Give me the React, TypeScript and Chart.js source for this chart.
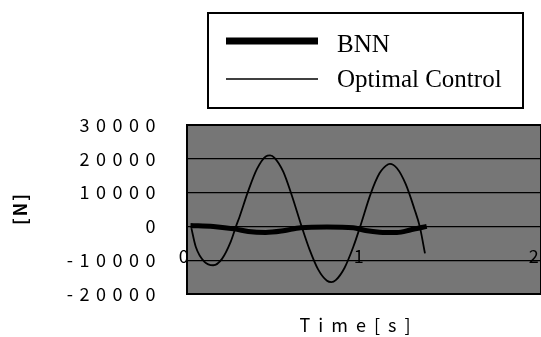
import React, { useEffect, useRef } from 'react';
import { Chart, registerables } from 'chart.js';

Chart.register(...registerables);

// ---- data ----
const seriesNames = ['BNN', 'Optimal Control'];

const bnnTime = [0.02, 0.15, 0.28, 0.35, 0.45, 0.55, 0.65, 0.8, 0.95, 1.02, 1.1, 1.2, 1.28, 1.37];
const bnnForce = [300, 0, -800, -1500, -1800, -1300, -400, -200, -400, -1200, -1700, -1800, -1000, 0];

const optTime = [
  0.025, 0.05, 0.1, 0.15, 0.2, 0.25, 0.28, 0.3, 0.35, 0.4, 0.45, 0.475, 0.5, 0.55, 0.6, 0.655,
  0.7, 0.75, 0.8, 0.825, 0.85, 0.9, 0.95, 0.99, 1.05, 1.1, 1.15, 1.16, 1.2, 1.25, 1.3, 1.33, 1.36,
];
const optForce = [
  -500, -6000, -10500, -11500, -9600, -4500, 0, 2800, 10500, 17000, 20700, 21000, 20300, 16200, 9000, 0,
  -6800, -12800, -16100, -16500, -15900, -12300, -6100, 0, 9700, 15700, 18400, 18500, 17200, 12500, 5100, 0, -8000,
];

const yTickValues = [-20000, -10000, 0, 10000, 20000, 30000];
const xTickValues = [0, 1, 2];
const xAxisTitle = 'Time[s]';
const yAxisTitle = '[N]';

const PLOT_BG = '#767676';
const SANS = "'Noto Sans CJK JP', 'DejaVu Sans', sans-serif";
const TICK_FONT = { family: SANS, size: 18 };

export default function App() {
  const ref = useRef<HTMLCanvasElement>(null);

  useEffect(() => {
    const canvas = ref.current;
    if (!canvas) return;

    const framePlugin = {
      id: 'frame',
      beforeDraw(chart: any) {
        const { ctx, chartArea: a } = chart;
        ctx.save();
        ctx.fillStyle = PLOT_BG;
        ctx.fillRect(a.left, a.top, a.right - a.left, a.bottom - a.top);
        ctx.restore();
        ctx.letterSpacing = '6.5px';
      },
      afterDraw(chart: any) {
        const { ctx, chartArea: a } = chart;
        ctx.save();
        ctx.letterSpacing = '0px';
        ctx.strokeStyle = '#000';
        ctx.lineWidth = 2;
        ctx.strokeRect(a.left, a.top, a.right - a.left, a.bottom - a.top);

        // axis titles
        ctx.fillStyle = '#000';
        ctx.textAlign = 'center';
        ctx.textBaseline = 'alphabetic';
        ctx.font = `18px ${SANS}`;
        ctx.letterSpacing = '8px';
        ctx.fillText(xAxisTitle, 359, 332);
        ctx.save();
        ctx.translate(20, (a.top + a.bottom) / 2);
        ctx.rotate(-Math.PI / 2);
        ctx.font = `bold 18px ${SANS}`;
        ctx.letterSpacing = '2px';
        ctx.textBaseline = 'middle';
        ctx.fillText(yAxisTitle, 1, 0);
        ctx.restore();
        ctx.letterSpacing = '0px';

        // legend box
        ctx.lineWidth = 2;
        ctx.fillStyle = '#fff';
        ctx.fillRect(208, 13, 315, 95);
        ctx.strokeRect(208, 13, 315, 95);
        const ds = chart.data.datasets;
        const items = [
          { d: ds[0], y: 41, textY: 52, w: 7 },
          { d: ds[1], y: 79, textY: 87, w: 1.5 },
        ];
        ctx.font = "25px 'Liberation Serif', 'DejaVu Serif', serif";
        ctx.textBaseline = 'alphabetic';
        ctx.textAlign = 'left';
        for (const it of items) {
          ctx.beginPath();
          ctx.strokeStyle = it.d.borderColor;
          ctx.lineWidth = it.w;
          ctx.moveTo(226, it.y);
          ctx.lineTo(318, it.y);
          ctx.stroke();
          ctx.fillStyle = '#000';
          ctx.fillText(it.d.label, 337, it.textY);
        }
        ctx.restore();
      },
    };

    const chart = new Chart(canvas, {
      type: 'line',
      data: {
        datasets: [
          {
            label: seriesNames[0],
            data: bnnTime.map((t, i) => ({ x: t, y: bnnForce[i] })),
            borderColor: '#000',
            borderWidth: 5,
            pointRadius: 0,
            cubicInterpolationMode: 'monotone',
            order: 0,
          },
          {
            label: seriesNames[1],
            data: optTime.map((t, i) => ({ x: t, y: optForce[i] })),
            borderColor: '#000',
            borderWidth: 1.8,
            pointRadius: 0,
            cubicInterpolationMode: 'monotone',
            order: 1,
          },
        ],
      },
      plugins: [framePlugin],
      options: {
        responsive: false,
        animation: false,
        events: [],
        layout: { padding: { top: 125, bottom: 43, left: 0, right: 0 } },
        plugins: {
          legend: { display: false },
          tooltip: { enabled: false },
          title: { display: false },
        },
        scales: {
          x: {
            type: 'linear',
            position: { y: -10000 } as any,
            min: 0,
            max: 2.023,
            afterBuildTicks: (s: any) => {
              s.ticks = xTickValues.map((v) => ({ value: v }));
            },
            afterFit: (s: any) => {
              s.paddingLeft = 0;
              s.paddingRight = 0;
            },
            grid: { display: false, drawTicks: false },
            border: { display: false },
            ticks: {
              autoSkip: false,
              maxRotation: 0,
              padding: -15,
              color: '#000',
              font: TICK_FONT,
              callback: (v: any) => String(v),
            },
          },
          y: {
            type: 'linear',
            position: 'left',
            min: -20000,
            max: 30000,
            afterBuildTicks: (s: any) => {
              s.ticks = yTickValues.map((v) => ({ value: v }));
            },
            afterFit: (s: any) => {
              s.width = 187;
              s.paddingTop = 0;
              s.paddingBottom = 0;
            },
            grid: { color: '#000', lineWidth: 1.3, drawTicks: false },
            border: { display: false },
            ticks: {
              padding: 25,
              color: '#000',
              font: TICK_FONT,
              callback: (v: any) => String(v),
            },
            title: { display: false },
          },
        },
      },
    } as any);

    return () => chart.destroy();
  }, []);

  return (
    <div style={{ position: 'absolute', left: 0, top: 0, width: 541, height: 337, background: '#fff' }}>
      <canvas ref={ref} width={541} height={337} style={{ display: 'block' }} />
    </div>
  );
}
